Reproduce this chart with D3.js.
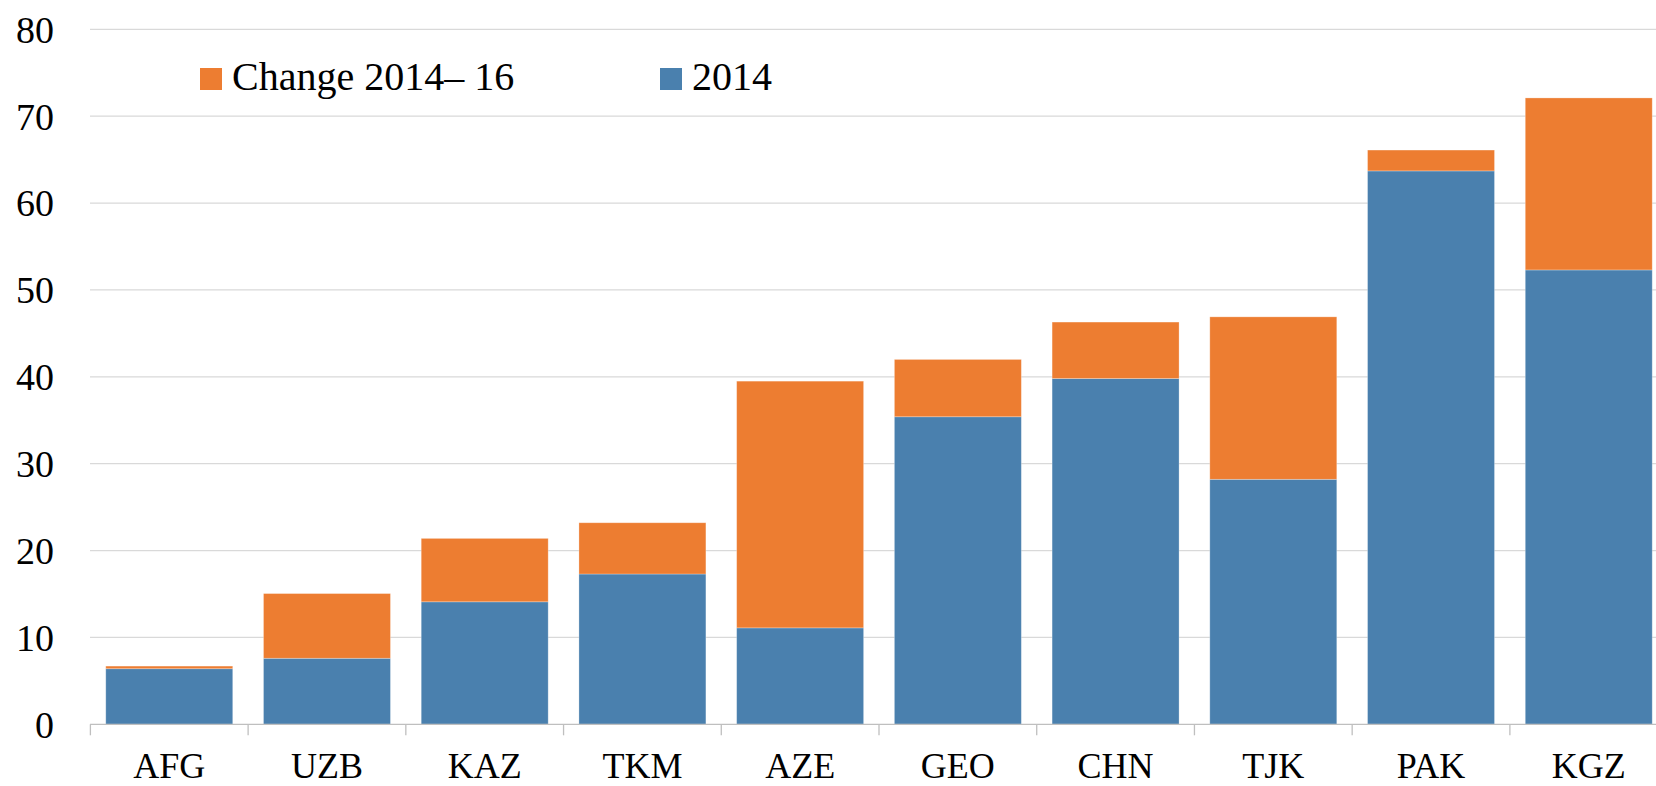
<!DOCTYPE html>
<html lang="en">
  <head>
    <meta charset="UTF-8" />
    <script src="https://d3js.org/d3.v7.min.js"></script>
    <title>Change 2014-16</title>
    <style>
      body { margin: 0; background: #fff; }
    </style>
  </head>

  <body>
    <script>
      // data
      const countries = ["AFG", "UZB", "KAZ", "TKM", "AZE", "GEO", "CHN", "TJK", "PAK", "KGZ"];
      const base2014 = [6.4, 7.6, 14.1, 17.3, 11.1, 35.4, 39.8, 28.2, 63.7, 52.3];
      const change = [0.3, 7.45, 7.3, 5.9, 28.4, 6.6, 6.5, 18.7, 2.4, 19.8];
      const yTicks = [0, 10, 20, 30, 40, 50, 60, 70, 80];
      const seriesNames = ["Change 2014\u2013 16", "2014"];

      const orange = "#ed7d31";
      const blue = "#4a80ae";
      const serif = "Liberation Serif";

      const width = 1656, height = 786;
      const svg = d3.select("body")
        .append("svg")
        .attr("width", width)
        .attr("height", height)
        .attr("font-family", serif);

      const scaleX = d3.scaleBand()
        .domain(countries)
        .range([90, 1668])
        .paddingInner(0.195)
        .paddingOuter(0.1);

      const scaleY = d3.scaleLinear()
        .domain([0, 80])
        .range([724.3, 29.3]);

      // gridlines
      svg.append("g")
        .selectAll("line")
        .data(yTicks.filter((d) => d > 0))
        .join("line")
        .attr("x1", 90)
        .attr("x2", width)
        .attr("y1", (d) => scaleY(d))
        .attr("y2", (d) => scaleY(d))
        .attr("stroke", "#d9d9d9")
        .attr("stroke-width", 1.2);

      // y axis labels
      const axisY = d3.axisLeft(scaleY)
        .tickValues(yTicks)
        .tickSize(0)
        .tickPadding(0);
      const gy = svg.append("g").attr("transform", "translate(54,0)");
      axisY(gy);
      gy.select(".domain").remove();
      gy.attr("font-family", serif).attr("font-size", 38);
      gy.selectAll("text")
        .attr("fill", "#000")
        .attr("dy", "0.34em");

      // stacked bars
      const rows = countries.map((c, i) => ({ c: c, base: base2014[i], chg: change[i] }));

      svg.append("g")
        .selectAll("rect")
        .data(rows)
        .join("rect")
        .attr("x", (d) => scaleX(d.c))
        .attr("y", (d) => scaleY(d.base))
        .attr("width", scaleX.bandwidth())
        .attr("height", (d) => scaleY(0) - scaleY(d.base))
        .attr("fill", blue)
        .attr("stroke", "#ffffff")
        .attr("stroke-opacity", 0.35)
        .attr("stroke-width", 0.8);

      svg.append("g")
        .selectAll("rect")
        .data(rows)
        .join("rect")
        .attr("x", (d) => scaleX(d.c))
        .attr("y", (d) => scaleY(d.base + d.chg))
        .attr("width", scaleX.bandwidth())
        .attr("height", (d) => scaleY(d.base) - scaleY(d.base + d.chg))
        .attr("fill", orange)
        .attr("stroke", "#ffffff")
        .attr("stroke-opacity", 0.35)
        .attr("stroke-width", 0.8);

      // x axis line with tick marks between categories
      const gap = scaleX.step() - scaleX.bandwidth();
      const tickXs = countries.map((c) => scaleX(c) - gap / 2);
      tickXs.push(scaleX(countries[countries.length - 1]) + scaleX.bandwidth() + gap / 2);

      const gx = svg.append("g");
      gx.append("line")
        .attr("x1", 90)
        .attr("x2", width)
        .attr("y1", scaleY(0))
        .attr("y2", scaleY(0))
        .attr("stroke", "#bfbfbf")
        .attr("stroke-width", 1.3);
      gx.selectAll("line.tick")
        .data(tickXs)
        .join("line")
        .attr("class", "tick")
        .attr("x1", (d) => d)
        .attr("x2", (d) => d)
        .attr("y1", scaleY(0))
        .attr("y2", scaleY(0) + 11)
        .attr("stroke", "#bfbfbf")
        .attr("stroke-width", 1.3);
      gx.selectAll("text")
        .data(countries)
        .join("text")
        .text((d) => d)
        .attr("x", (d) => scaleX(d) + scaleX.bandwidth() / 2)
        .attr("y", 778)
        .attr("text-anchor", "middle")
        .attr("font-size", 36)
        .attr("fill", "#000");

      // legend
      const legendX = [200, 660];
      const legendColors = [orange, blue];
      const lg = svg.append("g")
        .selectAll("g")
        .data(seriesNames)
        .join("g")
        .attr("transform", (d, i) => "translate(" + legendX[i] + ",68)");
      lg.append("rect")
        .attr("width", 22)
        .attr("height", 22)
        .attr("fill", (d, i) => legendColors[i]);
      lg.append("text")
        .text((d) => d)
        .attr("x", 32)
        .attr("y", 22)
        .attr("font-size", 40)
        .attr("fill", "#000");
    </script>
  </body>
</html>
